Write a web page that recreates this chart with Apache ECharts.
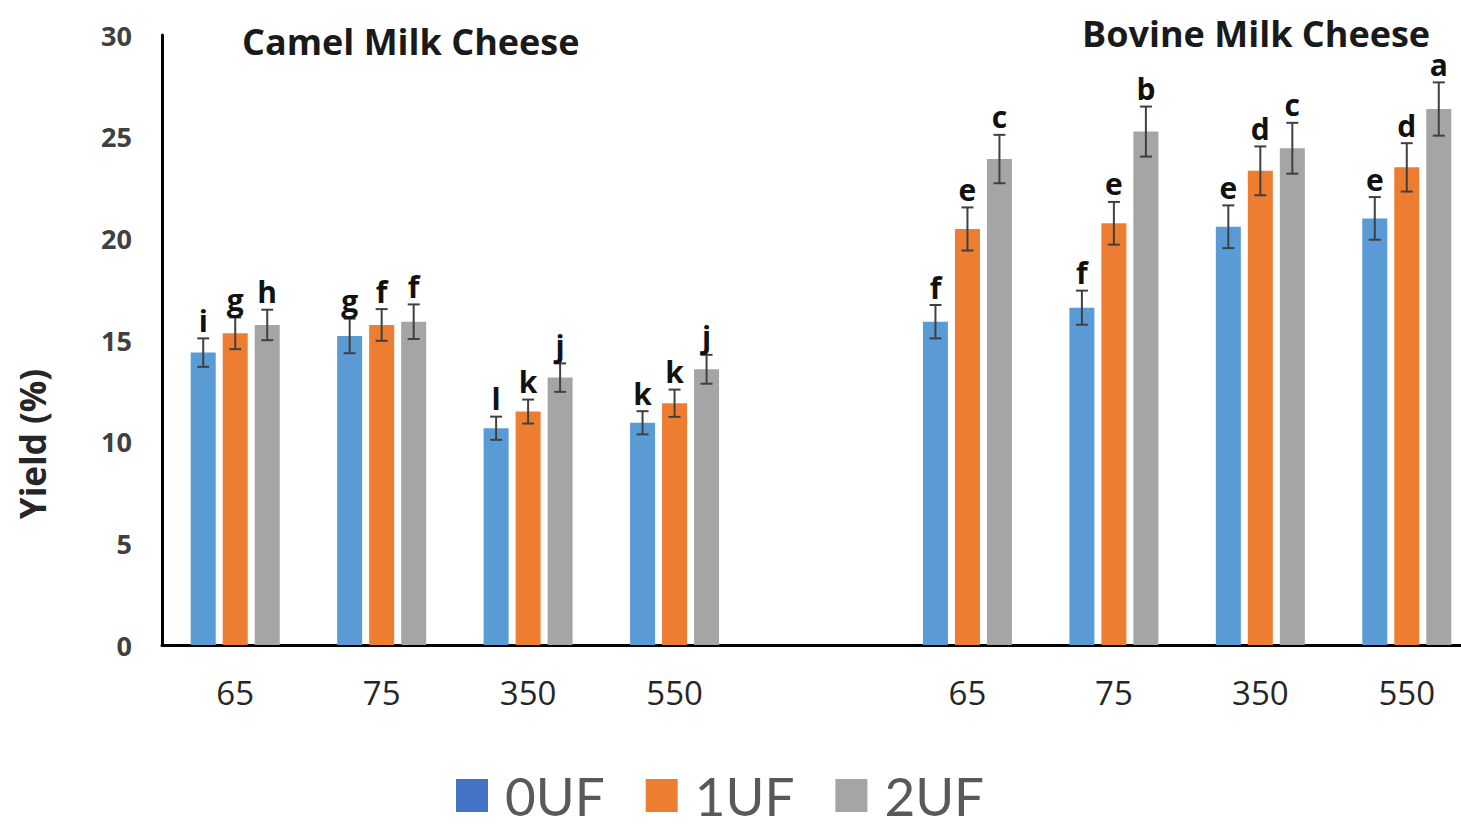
<!DOCTYPE html>
<html>
<head>
<meta charset="utf-8">
<script src="https://cdn.jsdelivr.net/npm/echarts@6/dist/echarts.min.js"></script>
<style>
  html, body { margin: 0; padding: 0; background: #fff; }
  #chart { width: 1461px; height: 827px; }
</style>
</head>
<body>
<div id="chart"></div>
<script>
// Heat-treatment temperatures (x categories), shared by both cheese groups
const doses = ['65', '75', '350', '550'];
const seriesNames = ['0UF', '1UF', '2UF'];

// Yield (%) means
const camel0UF = [14.38, 15.20, 10.66, 10.93];
const camel1UF = [15.33, 15.74, 11.48, 11.89];
const camel2UF = [15.74, 15.90, 13.15, 13.56];
const bovine0UF = [15.90, 16.59, 20.57, 20.98];
const bovine1UF = [20.46, 20.74, 23.32, 23.49];
const bovine2UF = [23.90, 25.25, 24.43, 26.36];

// Standard deviations (error bar half-lengths)
const camelErr0UF = [0.70, 0.85, 0.57, 0.57];
const camelErr1UF = [0.78, 0.78, 0.59, 0.67];
const camelErr2UF = [0.75, 0.85, 0.70, 0.71];
const bovineErr0UF = [0.82, 0.84, 1.05, 1.05];
const bovineErr1UF = [1.06, 1.05, 1.20, 1.19];
const bovineErr2UF = [1.19, 1.23, 1.25, 1.31];

// Significance letters
const camelSig0UF = ['i', 'g', 'l', 'k'];
const camelSig1UF = ['g', 'f', 'k', 'k'];
const camelSig2UF = ['h', 'f', 'j', 'j'];
const bovineSig0UF = ['f', 'f', 'e', 'e'];
const bovineSig1UF = ['e', 'e', 'd', 'd'];
const bovineSig2UF = ['c', 'b', 'c', 'a'];

// Y axis ticks
const yTicks = [0, 5, 10, 15, 20, 25, 30];

// Axis: camel block, one empty spacer slot, bovine block
const categories = doses.concat([''], doses);

const barColors = ['#5B9BD5', '#ED7D31', '#A5A5A5'];
const legendColors = ['#4472C4', '#ED7D31', '#A5A5A5'];
const BAR_WIDTH = 25;
const BAR_GAP = '28%';

const means = [
  camel0UF.concat(['-'], bovine0UF),
  camel1UF.concat(['-'], bovine1UF),
  camel2UF.concat(['-'], bovine2UF)
];
const errs = [
  camelErr0UF.concat([null], bovineErr0UF),
  camelErr1UF.concat([null], bovineErr1UF),
  camelErr2UF.concat([null], bovineErr2UF)
];
const sigs = [
  camelSig0UF.concat([null], bovineSig0UF),
  camelSig1UF.concat([null], bovineSig1UF),
  camelSig2UF.concat([null], bovineSig2UF)
];

function errorData(k) {
  const out = [];
  means[k].forEach(function (v, i) {
    if (v !== '-') out.push([i, v, errs[k][i], sigs[k][i]]);
  });
  return out;
}

function makeErrorRenderer(k) {
  return function (params, api) {
    const cat = api.value(0);
    const mean = api.value(1);
    const sd = api.value(2);
    const layout = api.barLayout({ barWidth: BAR_WIDTH, barGap: BAR_GAP, count: 3 });
    const x = api.coord([cat, mean])[0] + layout[k].offsetCenter;
    const yTop = api.coord([cat, mean + sd])[1];
    const yBot = api.coord([cat, mean - sd])[1];
    const cap = 6;
    const stroke = { stroke: '#404040', lineWidth: 2 };
    return {
      type: 'group',
      children: [
        { type: 'line', shape: { x1: x, y1: yTop, x2: x, y2: yBot }, style: stroke },
        { type: 'line', shape: { x1: x - cap, y1: yTop, x2: x + cap, y2: yTop }, style: stroke },
        { type: 'line', shape: { x1: x - cap, y1: yBot, x2: x + cap, y2: yBot }, style: stroke },
        {
          type: 'text',
          x: x, y: yTop - 3,
          style: {
            text: api.value(3),
            align: 'center', verticalAlign: 'bottom',
            fontFamily: 'Open Sans', fontWeight: 'bold', fontSize: 30,
            fill: '#111'
          }
        }
      ]
    };
  };
}

const series = [];
seriesNames.forEach(function (name, k) {
  series.push({
    name: name,
    type: 'bar',
    data: means[k],
    barWidth: BAR_WIDTH,
    barGap: BAR_GAP,
    itemStyle: { color: barColors[k] },
    emphasis: { disabled: true }
  });
});
seriesNames.forEach(function (name, k) {
  series.push({
    name: name + ' SD',
    type: 'custom',
    data: errorData(k),
    renderItem: makeErrorRenderer(k),
    encode: { x: 0, y: 1 },
    z: 5,
    silent: true
  });
});

const titleFont = { fontFamily: 'Open Sans', fontWeight: 'bold', fontSize: 36, color: '#1a1a1a' };

const chart = echarts.init(document.getElementById('chart'), null, { renderer: 'svg' });
chart.setOption({
  animation: false,
  backgroundColor: '#fff',
  title: [
    { text: 'Camel Milk Cheese', left: 237, top: 18, textStyle: titleFont },
    { text: 'Bovine Milk Cheese', left: 1077, top: 10, textStyle: titleFont }
  ],
  legend: {
    data: seriesNames.map(function (n, k) {
      return { name: n, icon: 'rect', itemStyle: { color: legendColors[k] } };
    }),
    left: 451, top: 764,
    itemWidth: 32, itemHeight: 33, itemGap: 41,
    textStyle: {
      fontFamily: 'Lato', fontSize: 53,
      color: '#595959', padding: [0, 0, 0, 12]
    },
    selectedMode: false
  },
  grid: { left: 162, right: -19, top: 35, bottom: 182, containLabel: false, outerBoundsMode: 'none' },
  xAxis: {
    type: 'category',
    data: categories,
    axisLine: { lineStyle: { color: '#000', width: 3 } },
    axisTick: { show: false },
    axisLabel: { fontFamily: 'Open Sans', fontSize: 33, color: '#262626', margin: 31, interval: 0 },
    splitLine: { show: false }
  },
  yAxis: {
    type: 'value',
    min: yTicks[0], max: yTicks[yTicks.length - 1], interval: yTicks[1] - yTicks[0],
    axisLine: { show: true, lineStyle: { color: '#000', width: 3 } },
    axisTick: { show: false },
    splitLine: { show: false },
    axisLabel: { fontFamily: 'Open Sans', fontWeight: 'bold', fontSize: 27, color: '#404040', margin: 30 }
  },
  graphic: [
    {
      type: 'text',
      x: 32, y: 444, rotation: Math.PI / 2,
      style: {
        text: 'Yield (%)', align: 'center', verticalAlign: 'middle',
        fontFamily: 'Open Sans', fontWeight: 'bold', fontSize: 35, fill: '#262626'
      }
    }
  ],
  series: series
});
</script>
</body>
</html>
